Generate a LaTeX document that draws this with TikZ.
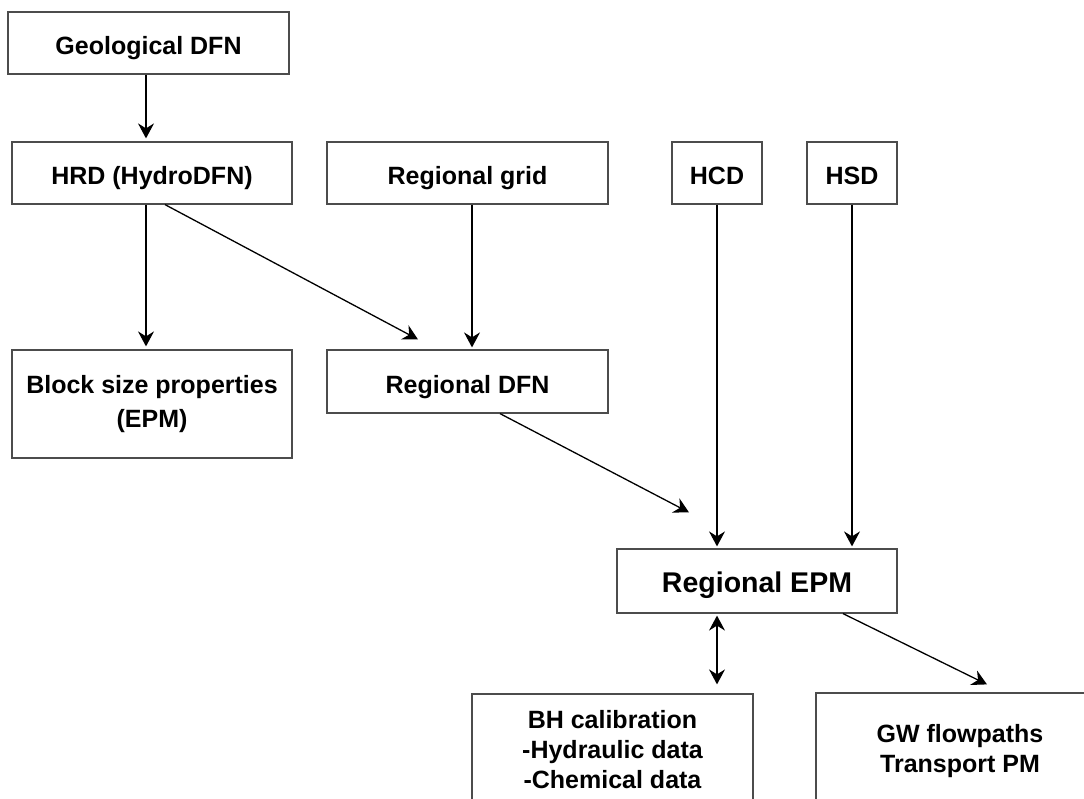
\documentclass[tikz,border=0pt]{standalone}
\usepackage{fontspec}
\setmainfont{Liberation Sans}
\usetikzlibrary{arrows.meta}

\begin{document}
\begin{tikzpicture}[x=1pt,y=-1pt,
    >={Stealth[length=15pt,width=16pt,inset=5pt]},
    box/.style={draw=black!70,line width=1.2pt,minimum width=280pt,minimum height=62pt,
      font=\fontsize{25}{30}\selectfont\bfseries,text height=24pt,text depth=0pt},
    tallbox/.style={draw=black!70,line width=1.2pt,align=center,
      font=\fontsize{25}{30}\selectfont\bfseries},
    flow/.style={->,line width=1.3pt}]
    \useasboundingbox (0,0) rectangle (1084,799);

    \path
    (148.5,43) node[box,minimum width=281pt] (geo) {Geological DFN}
    (152,173) node[box] (hrd) {HRD (HydroDFN)}
    (467.5,173) node[box,minimum width=281pt] (grid) {Regional grid}
    (717,173) node[box,minimum width=90pt] (hcd) {HCD}
    (852,173) node[box,minimum width=90pt] (hsd) {HSD}
    ;

    \path
    (152,404) node[tallbox,minimum width=280pt,minimum height=108pt,
      font=\fontsize{25}{34}\selectfont\bfseries] (block) {Block size properties\\(EPM)}
    (467.5,381.5) node[box,minimum width=281pt,minimum height=63pt] (rdfn) {Regional DFN}
    (757,581) node[box,minimum height=64pt,text height=22pt,
      font=\fontsize{28.5}{34}\selectfont\bfseries] (epm) {Regional EPM}
    ;

    \path
    (612.5,749.5) node[tallbox,minimum width=281pt,minimum height=111pt] (bh)
      {BH calibration\\-Hydraulic data\\-Chemical data}
    (960,751) node[tallbox,minimum width=288pt,minimum height=116pt] (gw)
      {GW flowpaths\\Transport PM}
    ;

    \draw[flow,shorten >=3pt] ([xshift=-2.5pt]geo.south) -- ([xshift=-6pt]hrd.north);
    \draw[flow,shorten >=3pt] ([xshift=-6pt]hrd.south) -- ([xshift=-6pt]block.north);
    \draw[flow] ([xshift=13pt]hrd.south) -- ([xshift=-49.5pt,yshift=10pt]rdfn.north);
    \draw[flow,shorten >=2pt] ([xshift=4.5pt]grid.south) -- ([xshift=4.5pt]rdfn.north);
    \draw[flow] ([xshift=32.5pt]rdfn.south) -- ([xshift=-68pt,yshift=36pt]epm.north);
    \draw[flow,shorten >=2pt] (hcd.south) -- (epm.north -| hcd.south);
    \draw[flow,shorten >=2pt] (hsd.south) -- (epm.north -| hsd.south);
    \draw[<->,line width=1.3pt,shorten <=2pt,shorten >=9pt] (epm.south -| hcd.south) -- (bh.north -| hcd.south);
    \draw[flow] ([xshift=86pt]epm.south) -- ([xshift=27pt,yshift=8pt]gw.north);
  \end{tikzpicture}
\end{document}
